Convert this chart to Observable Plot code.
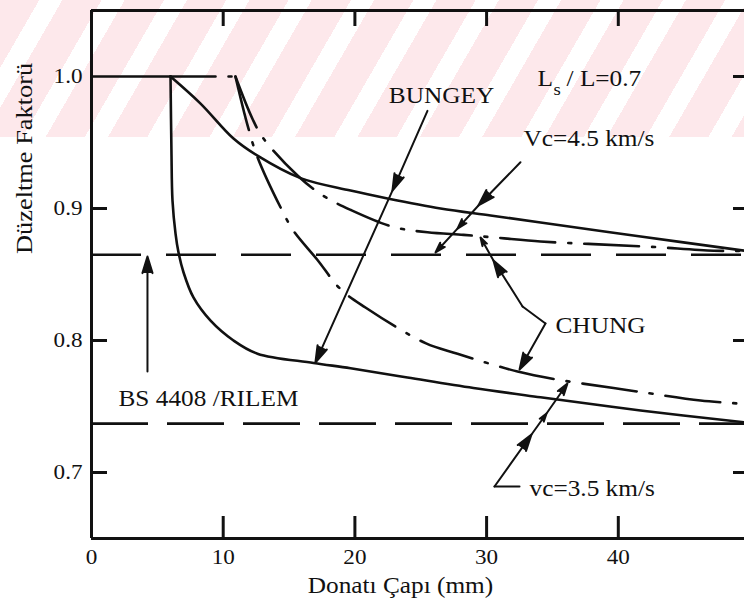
<!DOCTYPE html>
<html><head><meta charset="utf-8">
<script src="https://cdn.jsdelivr.net/npm/d3@7"></script>
<script src="https://cdn.jsdelivr.net/npm/@observablehq/plot@0.6"></script>
<style>
html,body{margin:0;padding:0;background:#fff;}
#wrap{position:relative;width:744px;height:612px;overflow:hidden;}
#wm{position:absolute;left:0;top:0;width:744px;height:137px;background:repeating-linear-gradient(120deg,#fde8eb 0 34px,#ffffff 34px 54px);}
#chart{position:absolute;left:0;top:0;}
</style></head><body>
<div id="wrap"><div id="wm"></div><div id="chart"></div></div>
<script>
// ---- tick values ----
const xTicks = [0, 10, 20, 30, 40];
const xInnerTicks = [10, 20, 30, 40];
const yTicks = [0.7, 0.8, 0.9, 1.0];
const yLeftInnerTicks = [0.7, 0.8, 0.9];
const yRightInnerTicks = [0.7, 0.8, 0.9, 1.0];

// ---- series (bar diameter mm, correction factor) ----
const plateauSolid = [[0, 1.0], [6.0, 1.0]];
const plateauDashDot = [[6.0, 1.0], [10.93, 1.0]];
const upperSolid = [[6.0,1.0],[8.28,0.9795],[10.78,0.953],[12.6,0.940],[15.87,0.923],[19.67,0.9136],[22.48,0.9076],[26.5,0.900],[30.3,0.8947],[34.1,0.8894],[41.7,0.8788],[49.6,0.868]];
const lowerSolid = [[6.0,1.0],[6.07,0.944],[6.15,0.906],[6.38,0.881],[6.6,0.867],[6.99,0.8515],[7.74,0.8326],[9.04,0.815],[10.78,0.800],[12.6,0.790],[16.86,0.783],[19.67,0.779],[23.99,0.772],[29.0,0.764],[34.09,0.757],[41.69,0.747],[49.6,0.738]];
const chungVc45 = [[10.93,1.0],[12.22,0.968],[13.06,0.953],[15.64,0.925],[17.54,0.910],[19.67,0.899],[22.93,0.886],[25.51,0.882],[28.25,0.880],[30.68,0.878],[34.09,0.875],[38.12,0.873],[42.44,0.871],[47.23,0.868],[49.6,0.868]];
const chungVc35 = [[10.93,1.0],[11.85,0.963],[12.6,0.939],[14.5,0.898],[15.34,0.883],[17.16,0.861],[18.9,0.839],[20.8,0.825],[25.36,0.798],[27.79,0.790],[32.35,0.7765],[35.6,0.770],[39.64,0.764],[41.69,0.761],[46.24,0.7545],[49.6,0.752]];
const bsLevel = [0.865];
const lowLevel = [0.737];

// ---- annotation callouts (data coordinates) ----
const bungeyArrow = [[25.51,0.974],[22.85,0.9136],[17.0,0.7833]];
const vc45Arrow = [[32.57,0.935],[29.38,0.9023],[27.79,0.8848],[26.12,0.8667]];
const chungUpper = [[34.47,0.8129],[32.73,0.8258],[30.52,0.8606],[29.54,0.878]];
const chungLower = [[34.47,0.8129],[32.5,0.778]];
const vc35Arrow = [[32.5,0.6894],[30.6,0.6894],[33.41,0.7288],[34.55,0.7447],[36.14,0.7674]];
const bsArrow = [[4.25,0.7765],[4.25,0.8636]];

const labelsStart = [
  {t: "Vc=4.5 km/s", x: 32.8, y: 0.953},
  {t: "CHUNG", x: 35.23, y: 0.8114},
  {t: "BS 4408 /RILEM", x: 2.05, y: 0.756},
  {t: "vc=3.5 km/s", x: 33.26, y: 0.6879},
  {t: "L", x: 33.86, y: 0.9985},
  {t: "/ L=0.7", x: 36.07, y: 0.9985}
];
const labelsMiddle = [{t: "BUNGEY", x: 26.58, y: 0.9856}];
const subLabels = [{t: "s", x: 35.08, y: 0.990}];

function segs(pts, from = 0) {
  const out = [];
  for (let i = from; i < pts.length - 1; i++) out.push({x1: pts[i][0], y1: pts[i][1], x2: pts[i+1][0], y2: pts[i+1][1]});
  return out;
}

const ink = "#111";
const W = 2.6;
const serif = "'Liberation Serif', 'Times New Roman', serif";
const arrowOpts = {x1: "x1", y1: "y1", x2: "x2", y2: "y2", stroke: ink, fill: ink, strokeWidth: 2, headLength: 13, headAngle: 34};
const frameW = 744 - 91, frameH = 538 - 10;

const chart = Plot.plot({
  width: 744, height: 612,
  marginTop: 10, marginBottom: 74, marginLeft: 91, marginRight: 0,
  x: {domain: [0, 50], range: [91, 749.5]},
  y: {domain: [0.65, 1.05], range: [538, 10]},
  style: {background: "transparent", fontFamily: serif, color: ink},
  marks: [
    // frame (left, top, bottom)
    Plot.ruleX([0], {stroke: ink, strokeWidth: 3}),
    Plot.ruleY([1.05], {stroke: ink, strokeWidth: 3}),
    Plot.ruleY([0.65], {stroke: ink, strokeWidth: 3}),
    // inward ticks
    Plot.tickX(xInnerTicks, {x: d => d, insetTop: frameH - 22, stroke: ink, strokeWidth: 3}),
    Plot.tickX(xInnerTicks, {x: d => d, insetBottom: frameH - 16, stroke: ink, strokeWidth: 3}),
    Plot.tickY(yLeftInnerTicks, {y: d => d, insetRight: frameW - 16, stroke: ink, strokeWidth: 3}),
    Plot.tickY(yRightInnerTicks, {y: d => d, insetLeft: frameW - 11, stroke: ink, strokeWidth: 3}),
    // axes labels
    Plot.axisX(xTicks, {anchor: "bottom", tickSize: 0, tickPadding: 11, fontSize: 21, fontFamily: serif, label: null, fill: ink}),
    Plot.axisY(yTicks, {anchor: "left", tickSize: 0, tickPadding: 9, fontSize: 21, fontFamily: serif, tickFormat: d3.format(".1f"), label: null, fill: ink}),
    Plot.text(["Donatı Çapı (mm)"], {text: d => d, x: 23.46, frameAnchor: "bottom", dy: 54, fontSize: 23, fontFamily: serif, fill: ink}),
    Plot.text(["Düzeltme Faktorü"], {text: d => d, y: 0.8655, frameAnchor: "left", dx: -67, rotate: -90, fontSize: 24, fontFamily: serif, fill: ink}),
    // reference levels
    Plot.ruleY(bsLevel, {y: d => d, stroke: ink, strokeWidth: W, strokeDasharray: "50,25"}),
    Plot.ruleY(lowLevel, {y: d => d, stroke: ink, strokeWidth: W, strokeDasharray: "57,19"}),
    // solid curves
    Plot.line(plateauSolid, {stroke: ink, strokeWidth: W}),
    Plot.line(upperSolid, {stroke: ink, strokeWidth: W, curve: "catmull-rom"}),
    Plot.line(lowerSolid, {stroke: ink, strokeWidth: W, curve: "catmull-rom"}),
    // dash-dot curves
    Plot.line(plateauDashDot, {stroke: ink, strokeWidth: W, strokeDasharray: "45,13,3,13"}),
    Plot.line(chungVc45, {stroke: ink, strokeWidth: W, curve: "catmull-rom", strokeDasharray: "55,13,3,13"}),
    Plot.line(chungVc35, {stroke: ink, strokeWidth: W, curve: "catmull-rom", strokeDasharray: "55,13,3,13"}),
    // callouts
    Plot.arrow(segs(bungeyArrow), arrowOpts),
    Plot.arrow(segs(vc45Arrow), arrowOpts),
    Plot.line(chungUpper.slice(0, 2), {stroke: ink, strokeWidth: 2}),
    Plot.arrow(segs(chungUpper, 1), arrowOpts),
    Plot.arrow(segs(chungLower), arrowOpts),
    Plot.line(vc35Arrow.slice(0, 2), {stroke: ink, strokeWidth: 2}),
    Plot.arrow(segs(vc35Arrow, 1), arrowOpts),
    Plot.arrow(segs(bsArrow), arrowOpts),
    // text annotations
    Plot.text(labelsStart, {x: "x", y: "y", text: "t", textAnchor: "start", fontSize: 23, fontFamily: serif, fill: ink}),
    Plot.text(labelsMiddle, {x: "x", y: "y", text: "t", textAnchor: "middle", fontSize: 23, fontFamily: serif, fill: ink}),
    Plot.text(subLabels, {x: "x", y: "y", text: "t", textAnchor: "start", fontSize: 17, fontFamily: serif, fill: ink})
  ]
});
document.getElementById("chart").appendChild(chart);
// widen glyphs slightly, like the scanned original typeface
chart.querySelectorAll("text").forEach(t => {
  const w = t.getComputedTextLength();
  if (w > 0) { t.setAttribute("textLength", (w * 1.1).toFixed(1)); t.setAttribute("lengthAdjust", "spacingAndGlyphs"); }
});
</script>
</body></html>
